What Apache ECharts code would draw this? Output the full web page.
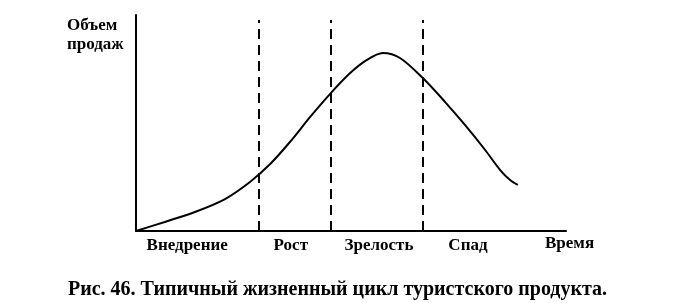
<!DOCTYPE html>
<html>
<head>
<meta charset="utf-8">
<script src="https://cdn.jsdelivr.net/npm/echarts@6/dist/echarts.min.js"></script>
<style>html,body{margin:0;padding:0;background:#fff}#c{width:686px;height:303px}</style>
</head>
<body>
<div id="c"></div>
<script>
// Time (0..100) and sales volume (0..100)
const timeValues  = [0, 6.7, 13.7, 20.7, 26.5, 31.2, 35.8, 40.5, 45.1, 49.8, 53.7, 57.4, 61.4, 66.7, 71.9, 76.5, 81.2, 84.7, 87.0, 88.8];
const salesValues = [0, 4.2, 8.8, 14.8, 22.7, 31.0, 41.2, 52.8, 63.4, 73.1, 79.2, 82.4, 80.1, 70.8, 59.7, 49.1, 37.5, 28.2, 23.6, 21.3];
// stage boundaries (dashed lines)
const boundaries = [28.6, 45.3, 66.7];
const boundaryTop = 97.7;
// stage labels and their centre positions along time
const stageNames = ['Внедрение', 'Рост', 'Зрелость', 'Спад'];
const stageCenters = [11.9, 36.0, 56.5, 77.2];
const xAxisName = 'Время';
const yAxisName = 'Объем\nпродаж';
const captionBold = 'Рис. 46.';
const captionText = ' Типичный жизненный цикл туристского продукта.';

const FONT = '"Liberation Serif", "DejaVu Serif", serif';
const chart = echarts.init(document.getElementById('c'), null, {renderer: 'canvas'});

const dashed = boundaries.map(x => [{coord: [x, 0]}, {coord: [x, boundaryTop]}]);

chart.setOption({
  animation: false,
  backgroundColor: '#fff',
  grid: {left: 136, top: 15, width: 430, height: 216},
  xAxis: {
    type: 'value', min: 0, max: 100,
    axisLine: {show: true, onZero: false, lineStyle: {color: '#000', width: 2}},
    axisTick: {show: false}, axisLabel: {show: false}, splitLine: {show: false}
  },
  yAxis: {
    type: 'value', min: 0, max: 100,
    axisLine: {show: true, lineStyle: {color: '#000', width: 2}},
    axisTick: {show: false}, axisLabel: {show: false}, splitLine: {show: false}
  },
  title: {
    left: 63, top: 275,
    text: '{b|' + captionBold + '}{n|' + captionText + '}',
    textStyle: {
      rich: {
        b: {fontFamily: FONT, fontSize: 20, fontWeight: 'bold', color: '#000'},
        n: {fontFamily: FONT, fontSize: 20, fontWeight: 'bold', color: '#000'}
      }
    }
  },
  graphic: [
    {type: 'text', left: 67, top: 16, style: {text: yAxisName, font: 'bold 17px ' + FONT, fill: '#000', lineHeight: 19}},
    {type: 'text', left: 545, top: 235, style: {text: xAxisName, font: 'bold 17px ' + FONT, fill: '#000'}}
  ],
  series: [
    {
      type: 'line',
      data: timeValues.map((t, i) => [t, salesValues[i]]),
      smooth: 0.3,
      symbol: 'none',
      lineStyle: {color: '#000', width: 2},
      markLine: {
        silent: true, symbol: 'none', label: {show: false},
        lineStyle: {color: '#000', width: 2, type: [10, 6]},
        data: dashed
      }
    },
    {
      type: 'scatter',
      symbolSize: 0,
      itemStyle: {opacity: 1},
      data: stageCenters.map((x, i) => ({value: [x, 0], name: stageNames[i]})),
      label: {
        show: true, position: 'bottom', distance: 6,
        formatter: p => p.name,
        fontFamily: FONT, fontSize: 17, fontWeight: 'bold', color: '#000'
      }
    }
  ]
});
</script>
</body>
</html>
